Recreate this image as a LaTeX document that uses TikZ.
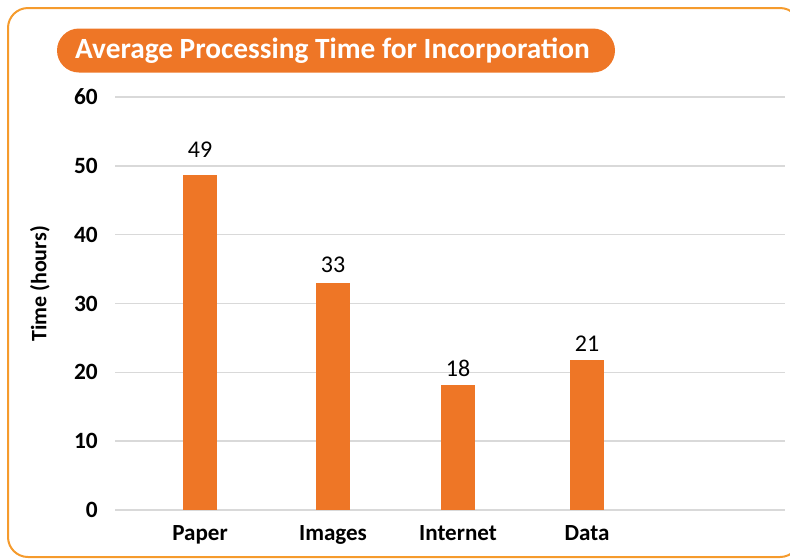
\documentclass[tikz,border=0pt]{standalone}
\usepackage{fontspec}
\setmainfont{Carlito}
\usetikzlibrary{positioning}
\definecolor{barorange}{RGB}{238,118,38}
\definecolor{frameorange}{RGB}{245,155,45}
\definecolor{gridgray}{RGB}{217,217,217}

\begin{document}
\begin{tikzpicture}[x=0.75pt, y=-0.75pt,
  ticklab/.style={font=\bfseries\fontsize{17.5}{20}\selectfont, anchor=east, inner sep=0pt},
  catlab/.style={font=\bfseries\fontsize{17.3}{20}\selectfont, anchor=base, inner sep=0pt},
  vallab/.style={font=\fontsize{18}{20}\selectfont, anchor=base, inner sep=0pt}]
  \useasboundingbox (0,0) rectangle (790,558);
  % frame, running off the right and bottom edges
  \draw[frameorange, line width=1.5pt, rounded corners=15pt] (8,8) rectangle (800,557);
  % title pill
  \node[fill=barorange, rounded corners=16.5pt, minimum width=418.5pt,
        minimum height=33pt, inner sep=0pt] (pill) at (336,50.5) {};
  \node[text=white, font=\bfseries\fontsize{22}{26}\selectfont, inner sep=0pt]
        (title) at (332.5,50.5) {Average Processing Time for Incorporation};
  % grid and y ticks, 10 hours = 68.83 px
  \foreach \v in {0,...,6} {
    \draw[gridgray, line width=1.1pt] (115,{510-\v*68.83}) -- (785,{510-\v*68.83});
    \node[ticklab] (t\v) at (98,{510-\v*68.83}) {\pgfmathparse{int(\v*10)}\pgfmathresult};
  }
  \node[rotate=90, font=\bfseries\fontsize{16.5}{18}\selectfont] (ytitle) at (40,284) {Time (hours)};
  % bars: name / centre / height / label / label baseline
  \foreach \name/\x/\h/\lab/\ly in {Paper/200/48.7/49/157, Images/333/33.0/33/272,
                                    Internet/458/18.2/18/376, Data/587/21.8/21/351.5} {
    \fill[barorange] ({\x-17},510) rectangle ({\x+17},{510-\h*6.883});
    \node[vallab] (v\name) at (\x,\ly) {\lab};
    \node[catlab] (c\name) at (\x,540) {\name};
  }
\end{tikzpicture}
\end{document}
